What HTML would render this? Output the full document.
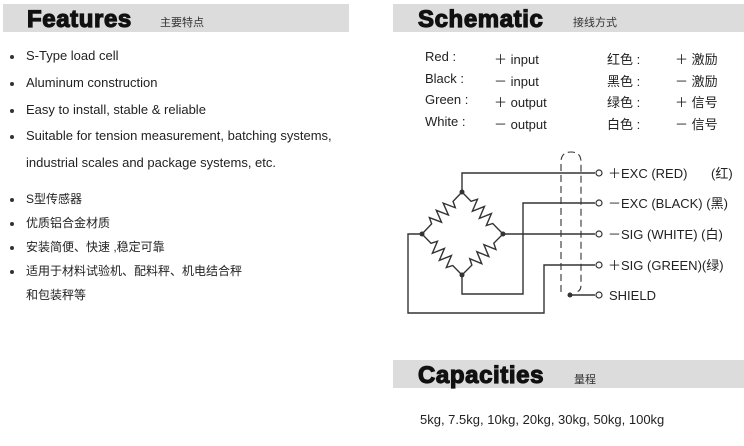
<!DOCTYPE html>
<html><head><meta charset="utf-8"><style>
body{margin:0;width:744px;height:446px;background:#fff;position:relative;overflow:hidden;font-family:"Liberation Sans","Noto Sans CJK SC",sans-serif;color:#222}
.bar{position:absolute;background:#dcdcdd;height:28px}
.h{position:absolute;font-family:"Liberation Sans",sans-serif;font-weight:bold;font-size:24px;color:#111;letter-spacing:0.6px;-webkit-text-stroke:1.2px #111;line-height:28px}
.s{position:absolute;font-size:11px;color:#333}
.t{position:absolute;font-size:13px;white-space:nowrap;color:#222}
.b{position:absolute;width:4px;height:4px;border-radius:50%;background:#333}
</style></head><body>
<div class="bar" style="left:3px;top:4px;width:346px"></div>
<div class="h" style="left:27px;top:6px">Features</div>
<div class="s" style="left:160px;top:14px">主要特点</div>
<div class="bar" style="left:393px;top:4px;width:351px"></div>
<div class="h" style="left:418px;top:6px">Schematic</div>
<div class="s" style="left:573px;top:14px">接线方式</div>
<div class="bar" style="left:393px;top:360px;width:351px"></div>
<div class="h" style="left:418px;top:362px">Capacities</div>
<div class="s" style="left:574px;top:371px">量程</div>

<div class="b" style="left:10px;top:55px"></div><div class="t" style="left:26px;top:48px">S-Type load cell</div>
<div class="b" style="left:10px;top:82px"></div><div class="t" style="left:26px;top:75px">Aluminum construction</div>
<div class="b" style="left:10px;top:109px"></div><div class="t" style="left:26px;top:102px">Easy to install, stable &amp; reliable</div>
<div class="b" style="left:10px;top:135px"></div><div class="t" style="left:26px;top:128px">Suitable for tension measurement, batching systems,</div>
<div class="t" style="left:26px;top:155px">industrial scales and package systems, etc.</div>
<div class="b" style="left:10px;top:198px"></div><div class="t" style="left:26px;top:190px;font-size:12px">S型传感器</div>
<div class="b" style="left:10px;top:222px"></div><div class="t" style="left:26px;top:214px;font-size:12px">优质铝合金材质</div>
<div class="b" style="left:10px;top:246px"></div><div class="t" style="left:26px;top:238px;font-size:12px">安装简便、快速 ,稳定可靠</div>
<div class="b" style="left:10px;top:270px"></div><div class="t" style="left:26px;top:262px;font-size:12px">适用于材料试验机、配料秤、机电结合秤</div>
<div class="t" style="left:26px;top:286px;font-size:12px">和包装秤等</div>

<div class="t" style="left:425px;top:49px">Red :</div><div class="t" style="left:494px;top:49px">＋ input</div>
<div class="t" style="left:425px;top:71px">Black :</div><div class="t" style="left:494px;top:71px">－ input</div>
<div class="t" style="left:425px;top:92px">Green :</div><div class="t" style="left:494px;top:92px">＋ output</div>
<div class="t" style="left:425px;top:114px">White :</div><div class="t" style="left:494px;top:114px">－ output</div>
<div class="t" style="left:607px;top:49px">红色 :</div><div class="t" style="left:675px;top:49px">＋ 激励</div>
<div class="t" style="left:607px;top:71px">黑色 :</div><div class="t" style="left:675px;top:71px">－ 激励</div>
<div class="t" style="left:607px;top:92px">绿色 :</div><div class="t" style="left:675px;top:92px">＋ 信号</div>
<div class="t" style="left:607px;top:114px">白色 :</div><div class="t" style="left:675px;top:114px">－ 信号</div>

<svg style="position:absolute;left:0;top:0" width="744" height="446">
<defs>
<path id="r" d="M0,0 L13,0 L16,-6 L21,6 L26,-6 L31,6 L36,-6 L41,6 L44,0 L58,0"/>
</defs>
<g fill="none" stroke="#333" stroke-width="1.4">
<polyline points="462,192 462,173 595,173"/>
<polyline points="462,275 462,294 523,294 523,203 595,203"/>
<line x1="503" y1="234" x2="595" y2="234"/>
<polyline points="422,234 408,234 408,313 544,313 544,265 595,265"/>
<line x1="570" y1="295" x2="595" y2="295"/>
<use href="#r" transform="translate(462,192) rotate(133.6)"/>
<use href="#r" transform="translate(462,192) rotate(45.7)"/>
<use href="#r" transform="translate(422,234) rotate(45.7)"/>
<use href="#r" transform="translate(503,234) rotate(135)"/>
<path d="M561,292 V162 Q561,152 571,152 Q581,152 581,162 V285 Q581,292 575,292" stroke-dasharray="7,4" stroke-width="1.1"/>
</g>
<g fill="#333"><circle cx="462" cy="192" r="2.5"/><circle cx="422" cy="234" r="2.5"/><circle cx="503" cy="234" r="2.5"/><circle cx="462" cy="275" r="2.5"/><circle cx="570" cy="295" r="2.5"/></g>
<g fill="#fff" stroke="#333" stroke-width="1.2"><circle cx="599" cy="173" r="3"/><circle cx="599" cy="203" r="3"/><circle cx="599" cy="234" r="3"/><circle cx="599" cy="265" r="3"/><circle cx="599" cy="295" r="3"/></g>
<g font-family="Liberation Sans,Noto Sans CJK SC,sans-serif" font-size="13" fill="#222">
<text x="608" y="178">＋EXC (RED)</text><text x="711" y="178">(红)</text>
<text x="608" y="208">－EXC (BLACK) (黑)</text>
<text x="608" y="239">－SIG (WHITE) (白)</text>
<text x="608" y="270">＋SIG (GREEN)(绿)</text>
<text x="609" y="300">SHIELD</text>
</g>
</svg>
<div class="t" style="left:420px;top:412px">5kg, 7.5kg, 10kg, 20kg, 30kg, 50kg, 100kg</div>
</body></html>
